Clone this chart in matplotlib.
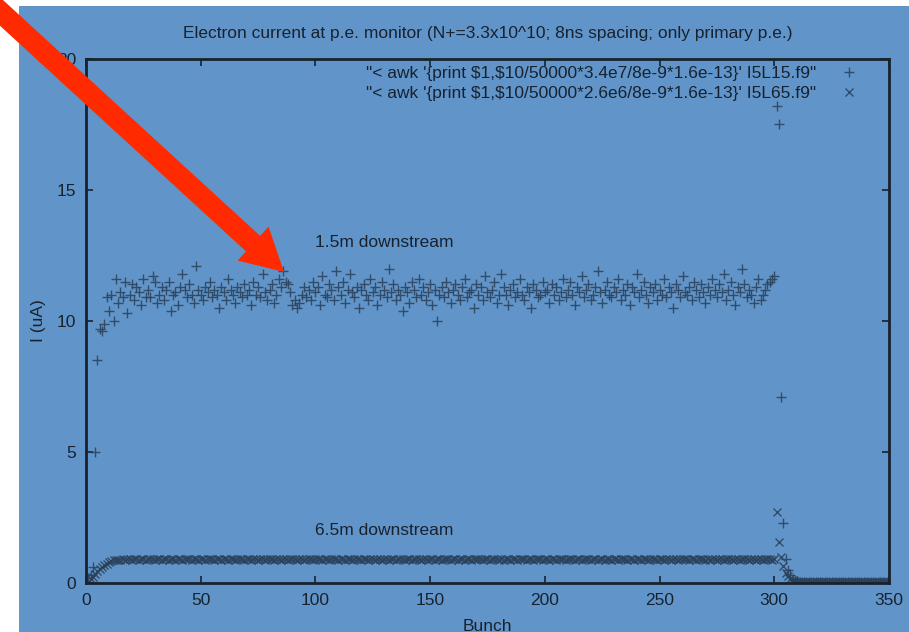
import matplotlib
matplotlib.use("Agg")
import matplotlib.pyplot as plt
from matplotlib.patches import Rectangle, FancyArrow

plt.rcParams['font.family'] = ['Liberation Sans', 'DejaVu Sans']

bg_blue = '#6195c9'
ink = '#18222f'
mark_col = '#2a3f58'

# bunch numbers 1..350
bunch = list(range(1, 351))

# 1.5m downstream (I5L15.f9), uA
i5l15 = [
    0.2, 0.3, 0.6, 5.0, 8.5, 9.7, 9.6, 9.9, 10.9, 10.4,
    11.0, 10.0, 11.6, 10.7, 11.1, 10.9, 11.5, 10.3, 11.0, 11.4,
    10.8, 11.3, 11.1, 10.6, 11.6, 10.9, 11.2, 10.9, 11.7, 11.5,
    10.7, 11.0, 11.3, 10.8, 11.2, 11.5, 10.4, 11.0, 11.1, 10.6,
    11.3, 11.8, 11.2, 10.9, 11.4, 11.0, 10.7, 12.1, 11.2, 11.0,
    10.8, 11.3, 11.1, 11.5, 10.9, 11.2, 11.0, 10.5, 11.3, 11.1,
    10.8, 11.6, 11.2, 11.0, 10.7, 11.3, 11.1, 10.9, 11.4, 11.0,
    11.2, 10.6, 11.5, 11.0, 11.3, 10.9, 11.8, 11.1, 10.8, 11.2,
    11.4, 10.7, 11.0, 11.6, 11.3, 11.9, 11.5, 11.4, 11.1, 10.6,
    10.8, 10.5, 10.7, 11.0, 11.3, 10.9, 11.2, 10.8, 11.5, 11.1,
    11.3, 10.6, 11.7, 11.0, 10.9, 11.4, 11.2, 10.8, 11.9, 11.3,
    11.0, 11.5, 10.7, 11.2, 11.8, 11.1, 10.9, 11.3, 10.5, 11.2,
    11.4, 11.0, 10.8, 11.6, 11.1, 11.3, 10.6, 11.0, 11.5, 11.2,
    10.9, 12.0, 11.1, 11.4, 10.8, 11.2, 11.0, 10.4, 11.3, 11.1,
    10.7, 11.5, 11.2, 10.9, 11.6, 11.0, 11.3, 10.8, 11.1, 11.4,
    10.6, 11.2, 10.0, 11.0, 11.3, 10.9, 11.5, 11.1, 10.7, 11.2,
    11.4, 11.0, 10.8, 11.3, 11.6, 10.9, 11.1, 11.2, 10.5, 11.4,
    11.0, 11.3, 10.8, 11.7, 11.1, 10.9, 11.2, 11.5, 10.7, 11.0,
    11.8, 11.3, 11.0, 10.6, 11.2, 11.4, 10.9, 11.1, 11.6, 11.0,
    10.8, 11.3, 11.1, 10.5, 11.4, 11.2, 10.9, 11.0, 11.5, 11.1,
    11.2, 10.7, 11.4, 11.0, 11.3, 10.8, 11.1, 11.6, 10.9, 11.2,
    11.5, 11.0, 10.6, 11.3, 11.1, 11.7, 10.9, 11.2, 11.4, 10.8,
    11.0, 11.3, 11.9, 11.1, 10.7, 11.2, 11.5, 11.0, 10.9, 11.3,
    11.1, 11.6, 10.8, 11.2, 11.0, 11.4, 10.6, 11.3, 11.1, 11.8,
    10.9, 11.2, 11.5, 11.0, 10.7, 11.3, 11.1, 11.4, 10.8, 11.2,
    11.0, 11.6, 10.9, 11.3, 11.1, 10.5, 11.4, 11.2, 10.9, 11.7,
    11.1, 11.0, 11.3, 10.8, 11.5, 11.2, 10.9, 11.4, 11.1, 10.7,
    11.3, 11.0, 11.6, 11.2, 10.9, 11.4, 11.1, 11.8, 10.8, 11.2,
    11.5, 11.0, 10.6, 11.3, 11.1, 12.0, 11.4, 10.9, 11.2, 11.0,
    10.7, 11.3, 11.6, 10.8, 11.0, 11.2, 11.4, 11.5, 11.6, 11.7,
    18.2, 17.5, 7.1, 2.3, 0.9, 0.5, 0.3, 0.15, 0.08, 0.06,
    0.05, 0.05, 0.04, 0.05, 0.04, 0.04, 0.05, 0.04, 0.03, 0.04,
    0.04, 0.03, 0.04, 0.04, 0.03, 0.04, 0.03, 0.03, 0.04, 0.03,
    0.03, 0.04, 0.03, 0.03, 0.03, 0.04, 0.03, 0.03, 0.03, 0.03,
    0.03, 0.03, 0.04, 0.03, 0.03, 0.03, 0.03, 0.03, 0.03, 0.03,
]

# 6.5m downstream (I5L65.f9), uA
i5l65 = [
    0.05, 0.14, 0.24, 0.34, 0.44, 0.53, 0.61, 0.68, 0.74, 0.79,
    0.83, 0.86, 0.88, 0.89, 0.88, 0.90, 0.89, 0.91, 0.90, 0.89,
    0.91, 0.90, 0.88, 0.92, 0.90, 0.89, 0.91, 0.90, 0.92, 0.89,
    0.90, 0.91, 0.88, 0.90, 0.92, 0.89, 0.91, 0.90, 0.89, 0.92,
    0.90, 0.88, 0.91, 0.90, 0.92, 0.89, 0.90, 0.91, 0.89, 0.92,
    0.90, 0.88, 0.91, 0.90, 0.93, 0.89, 0.90, 0.91, 0.88, 0.90,
    0.92, 0.89, 0.91, 0.90, 0.88, 0.91, 0.90, 0.92, 0.89, 0.90,
    0.91, 0.89, 0.92, 0.90, 0.88, 0.91, 0.90, 0.89, 0.92, 0.90,
    0.91, 0.89, 0.90, 0.92, 0.88, 0.90, 0.91, 0.89, 0.90, 0.93,
    0.90, 0.88, 0.91, 0.90, 0.89, 0.92, 0.90, 0.91, 0.88, 0.90,
    0.92, 0.90, 0.89, 0.91, 0.90, 0.88, 0.92, 0.90, 0.91, 0.89,
    0.90, 0.92, 0.89, 0.91, 0.90, 0.88, 0.91, 0.90, 0.93, 0.89,
    0.90, 0.91, 0.88, 0.90, 0.92, 0.89, 0.91, 0.90, 0.89, 0.92,
    0.91, 0.89, 0.90, 0.92, 0.88, 0.90, 0.91, 0.90, 0.89, 0.92,
    0.90, 0.88, 0.91, 0.90, 0.92, 0.89, 0.90, 0.91, 0.89, 0.90,
    0.92, 0.89, 0.91, 0.90, 0.88, 0.91, 0.90, 0.92, 0.89, 0.90,
    0.91, 0.89, 0.92, 0.90, 0.88, 0.91, 0.90, 0.89, 0.92, 0.90,
    0.90, 0.92, 0.89, 0.91, 0.90, 0.88, 0.91, 0.90, 0.93, 0.89,
    0.91, 0.89, 0.90, 0.92, 0.88, 0.90, 0.91, 0.89, 0.90, 0.92,
    0.90, 0.88, 0.91, 0.90, 0.89, 0.92, 0.90, 0.91, 0.88, 0.90,
    0.92, 0.89, 0.91, 0.90, 0.88, 0.91, 0.90, 0.92, 0.89, 0.90,
    0.91, 0.90, 0.88, 0.92, 0.90, 0.89, 0.91, 0.90, 0.92, 0.89,
    0.90, 0.91, 0.89, 0.92, 0.90, 0.88, 0.91, 0.90, 0.89, 0.92,
    0.90, 0.88, 0.91, 0.90, 0.93, 0.89, 0.90, 0.91, 0.88, 0.90,
    0.92, 0.89, 0.91, 0.90, 0.88, 0.91, 0.90, 0.92, 0.89, 0.90,
    0.91, 0.89, 0.92, 0.90, 0.88, 0.91, 0.90, 0.89, 0.92, 0.90,
    0.90, 0.92, 0.89, 0.91, 0.90, 0.88, 0.91, 0.90, 0.93, 0.89,
    0.91, 0.89, 0.90, 0.92, 0.88, 0.90, 0.91, 0.89, 0.90, 0.92,
    0.90, 0.88, 0.91, 0.90, 0.89, 0.92, 0.90, 0.91, 0.88, 0.90,
    0.92, 0.89, 0.91, 0.90, 0.88, 0.91, 0.90, 0.92, 0.89, 0.90,
    2.7, 1.55, 1.0, 0.65, 0.4, 0.25, 0.15, 0.1, 0.07, 0.05,
    0.05, 0.04, 0.05, 0.04, 0.04, 0.04, 0.03, 0.04, 0.04, 0.03,
    0.04, 0.03, 0.03, 0.04, 0.03, 0.03, 0.03, 0.04, 0.03, 0.03,
    0.03, 0.03, 0.03, 0.03, 0.04, 0.03, 0.03, 0.03, 0.03, 0.03,
    0.03, 0.03, 0.03, 0.03, 0.03, 0.03, 0.03, 0.03, 0.03, 0.03,
]

title = "Electron current at p.e. monitor (N+=3.3x10^10; 8ns spacing; only primary p.e.)"
label1 = "\"< awk '{print \\$1,\\$10/50000*3.4e7/8e-9*1.6e-13}' I5L15.f9\""
label2 = "\"< awk '{print \\$1,\\$10/50000*2.6e6/8e-9*1.6e-13}' I5L65.f9\""

fs = 12.5

fig = plt.figure(figsize=(9.09, 6.32), dpi=100, facecolor='white')
# blue screenshot background (white strip on left and top)
fig.add_artist(Rectangle((19 / 909, 0), 890 / 909, 626 / 632, transform=fig.transFigure,
                         facecolor=bg_blue, edgecolor='none', zorder=0))

ax = fig.add_axes([86 / 909, 1 - 583 / 632, 803 / 909, 524 / 632])
ax.set_facecolor(bg_blue)

ax.plot(bunch, i5l15, linestyle='none', marker='+', markersize=6.5, markeredgewidth=1.0,
        color=mark_col, alpha=0.85, label=label1)
ax.plot(bunch, i5l65, linestyle='none', marker='x', markersize=5.5, markeredgewidth=1.0,
        color=mark_col, alpha=0.85, label=label2)

ax.set_xlim(0, 350)
ax.set_ylim(0, 20)
ax.set_xticks(range(0, 351, 50))
ax.set_yticks(range(0, 21, 5))
ax.tick_params(direction='in', top=True, right=True, length=5, width=1.2, color=ink,
               labelcolor=ink, labelsize=fs, pad=7)
for s in ax.spines.values():
    s.set_linewidth(2.0)
    s.set_color(ink)

ax.set_title(title, fontsize=fs, color=ink, pad=15)
ax.set_xlabel("Bunch", fontsize=fs, color=ink, labelpad=8)
ax.set_ylabel("I (uA)", fontsize=fs, color=ink, labelpad=8)

ax.text(100, 13.0, "1.5m downstream", fontsize=fs, color=ink, va='center')
ax.text(100, 2.0, "6.5m downstream", fontsize=fs, color=ink, va='center')

leg = ax.legend(loc='upper right', bbox_to_anchor=(0.981, 1.0), borderaxespad=0,
                markerfirst=False, frameon=False, fontsize=fs,
                handlelength=2.0, handletextpad=0.9, labelspacing=0.28,
                labelcolor=ink)

# red arrow overlay (pixel space)
over = fig.add_axes([0, 0, 1, 1], facecolor='none')
over.set_xlim(0, 909)
over.set_ylim(632, 0)
over.axis('off')
over.add_patch(FancyArrow(-30, -16, 314, 288, width=21, head_width=46, head_length=42,
                          length_includes_head=True, color='#ff2a00', ec='none'))

fig.savefig("out.png", dpi=100, facecolor='white')
